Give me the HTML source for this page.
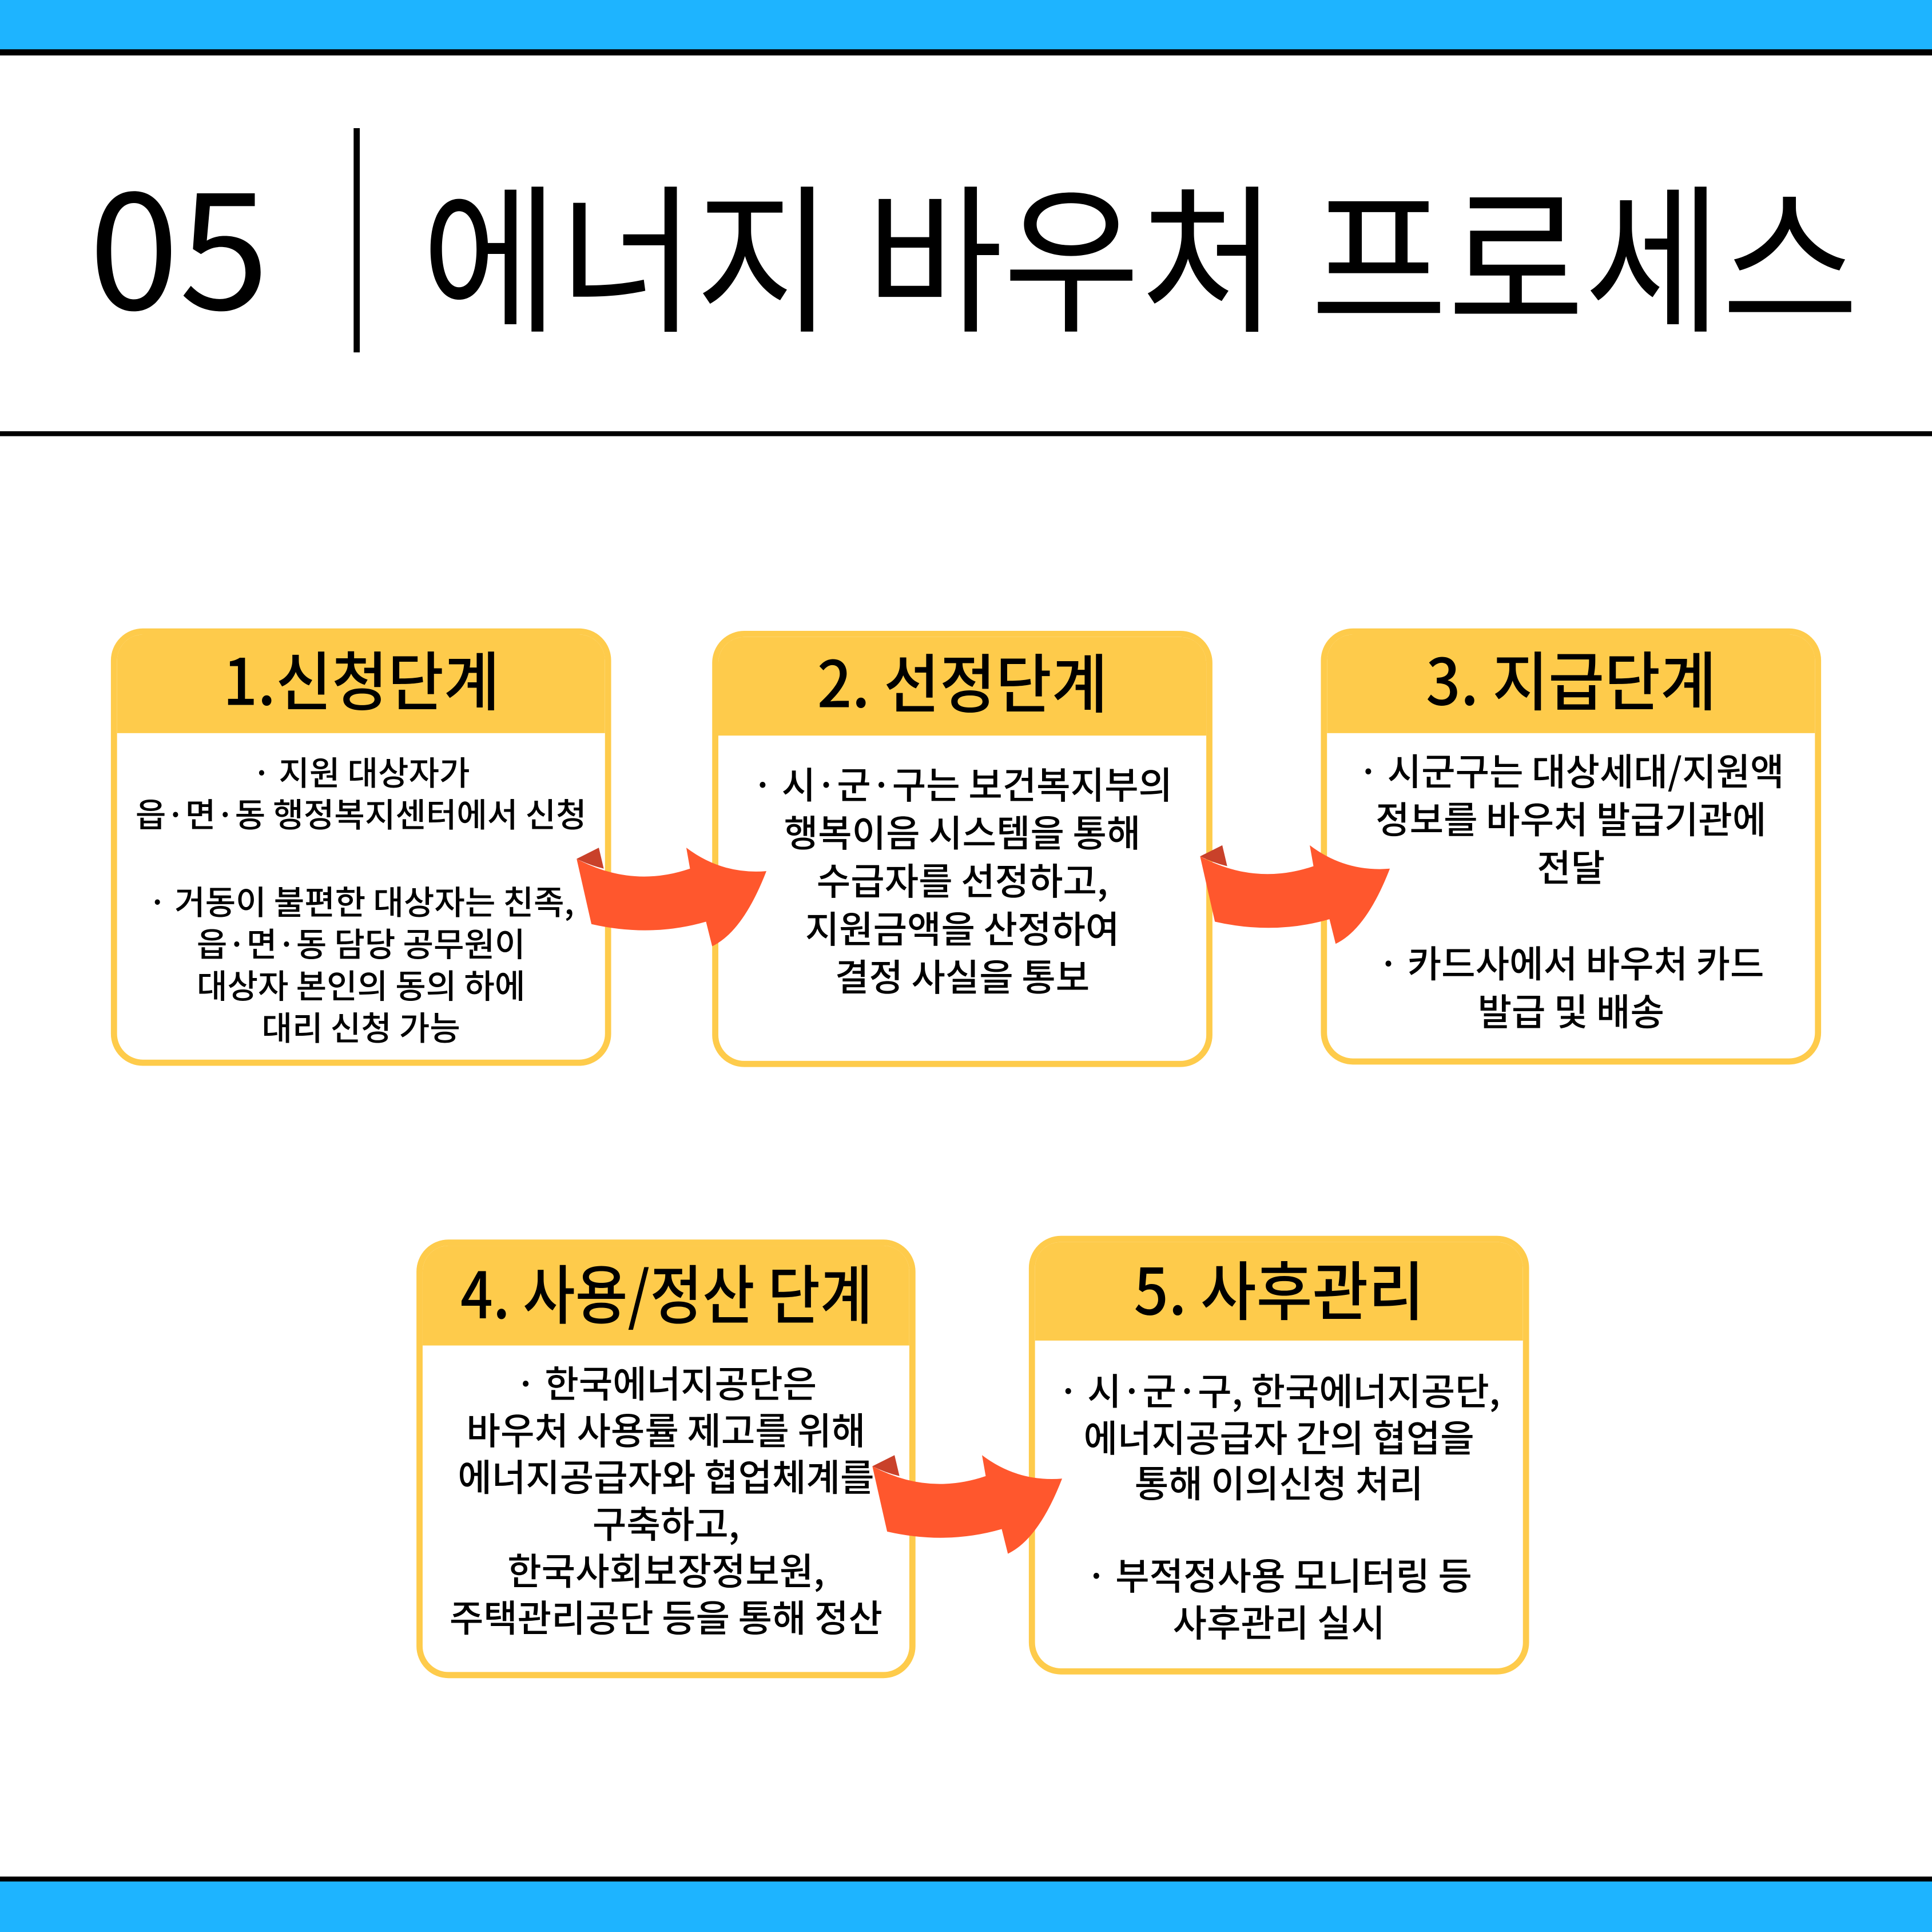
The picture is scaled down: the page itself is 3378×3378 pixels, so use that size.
<!DOCTYPE html>
<html><head><meta charset="utf-8"><style>
html,body{margin:0;padding:0;background:#fff;}
#w{width:1568px;height:1568px;position:relative;transform:scale(2.154337);transform-origin:0 0;overflow:hidden;font-family:"Liberation Sans","Noto Sans CJK KR",sans-serif;}
.abs{position:absolute;}
.box{position:absolute;box-sizing:border-box;border:5px solid #FECB4B;border-radius:26px;background:#fff;overflow:hidden;}
.hd{position:absolute;left:0;right:0;top:0;background:#FECB4B;text-align:center;font-family:"Noto Sans CJK KR",sans-serif;font-weight:500;font-size:52px;color:#000;white-space:nowrap;}
.hd span{display:inline-block;transform:scaleX(0.95);}
.bd{position:absolute;left:0;right:0;text-align:center;font-family:"Noto Sans CJK KR",sans-serif;font-weight:500;color:#000;white-space:nowrap;}
</style></head><body><div id="w">
<div class="abs" style="left:0;top:0;width:1568px;height:41px;background:#1EB4FF"></div>
<div class="abs" style="left:0;top:40px;width:1568px;height:5px;background:#000"></div>
<div class="abs" style="left:0;top:350px;width:1568px;height:4px;background:#000"></div>
<div class="abs" style="left:0;top:1523px;width:1568px;height:5px;background:#000"></div>
<div class="abs" style="left:0;top:1527px;width:1568px;height:41px;background:#1EB4FF"></div>
<div class="abs" style="left:72px;top:110px;font-family:'Noto Sans CJK KR',sans-serif;font-size:132px;line-height:170px;">05</div>
<div class="abs" style="left:287px;top:104px;width:5px;height:182px;background:#000"></div>
<div class="abs" style="left:342px;top:118px;font-family:'Noto Sans CJK KR',sans-serif;font-size:130px;line-height:170px;white-space:nowrap;transform:scaleX(0.93);transform-origin:0 0;">에너지 바우처 프로세스</div>

<div class="box" style="left:90px;top:510px;width:406px;height:355px">
<div class="hd" style="height:80px;line-height:70px"><span>1.신청단계</span></div>
<div class="bd" style="top:94px;font-size:27px;line-height:34px">· 지원 대상자가<br>읍·면·동 행정복지센터에서 신청<br><span style="line-height:37px">&nbsp;</span><br>· 거동이 불편한 대상자는 친족,<br>읍·면·동 담당 공무원이<br>대상자 본인의 동의 하에<br>대리 신청 가능</div>
</div>
<div class="box" style="left:578px;top:512px;width:406px;height:354px">
<div class="hd" style="height:80px;line-height:70px"><span>2. 선정단계</span></div>
<div class="bd" style="top:99px;font-size:30px;line-height:39px">· 시·군·구는 보건복지부의<br>행복이음 시스템을 통해<br>수급자를 선정하고,<br>지원금액을 산정하여<br>결정 사실을 통보</div>
</div>
<div class="box" style="left:1072px;top:510px;width:406px;height:354px">
<div class="hd" style="height:80px;line-height:70px"><span>3. 지급단계</span></div>
<div class="bd" style="top:90px;font-size:30px;line-height:39px">· 시군구는 대상세대/지원액<br>정보를 바우처 발급기관에<br>전달<br>&nbsp;<br>· 카드사에서 바우처 카드<br>발급 및 배송</div>
</div>
<div class="box" style="left:338px;top:1006px;width:405px;height:356px">
<div class="hd" style="height:81px;line-height:74px"><span style="transform:scaleX(0.89)">4. 사용/정산 단계</span></div>
<div class="bd" style="top:91px;font-size:30px;line-height:38px">· 한국에너지공단은<br>바우처 사용률 제고를 위해<br>에너지공급자와 협업체계를<br>구축하고,<br>한국사회보장정보원,<br>주택관리공단 등을 통해 정산</div>
</div>
<div class="box" style="left:835px;top:1003px;width:406px;height:356px">
<div class="hd" style="height:80px;line-height:74px"><span>5. 사후관리</span></div>
<div class="bd" style="top:101px;font-size:30px;line-height:37.5px">· 시·군·구, 한국에너지공단,<br>에너지공급자 간의 협업을<br>통해 이의신청 처리<br>&nbsp;<br>· 부적정사용 모니터링 등<br>사후관리 실시</div>
</div>

<svg class="abs" style="left:0;top:0" width="1568" height="1568" viewBox="0 0 1568 1568">
<defs><g id="ar">
<path d="M0,9 Q45,33 92,17 L89,0 Q118,22 154,19 Q135,68 110,80 L105,60 Q60,73 12,62 Z" fill="#FF572D"/>
<path d="M0,9 L18,0 L22,17 Q10,14 0,9 Z" fill="#C9412A"/>
</g></defs>
<use href="#ar" x="468" y="688"/>
<use href="#ar" x="974" y="686"/>
<use href="#ar" x="708" y="1181"/>
</svg>
</div></body></html>
